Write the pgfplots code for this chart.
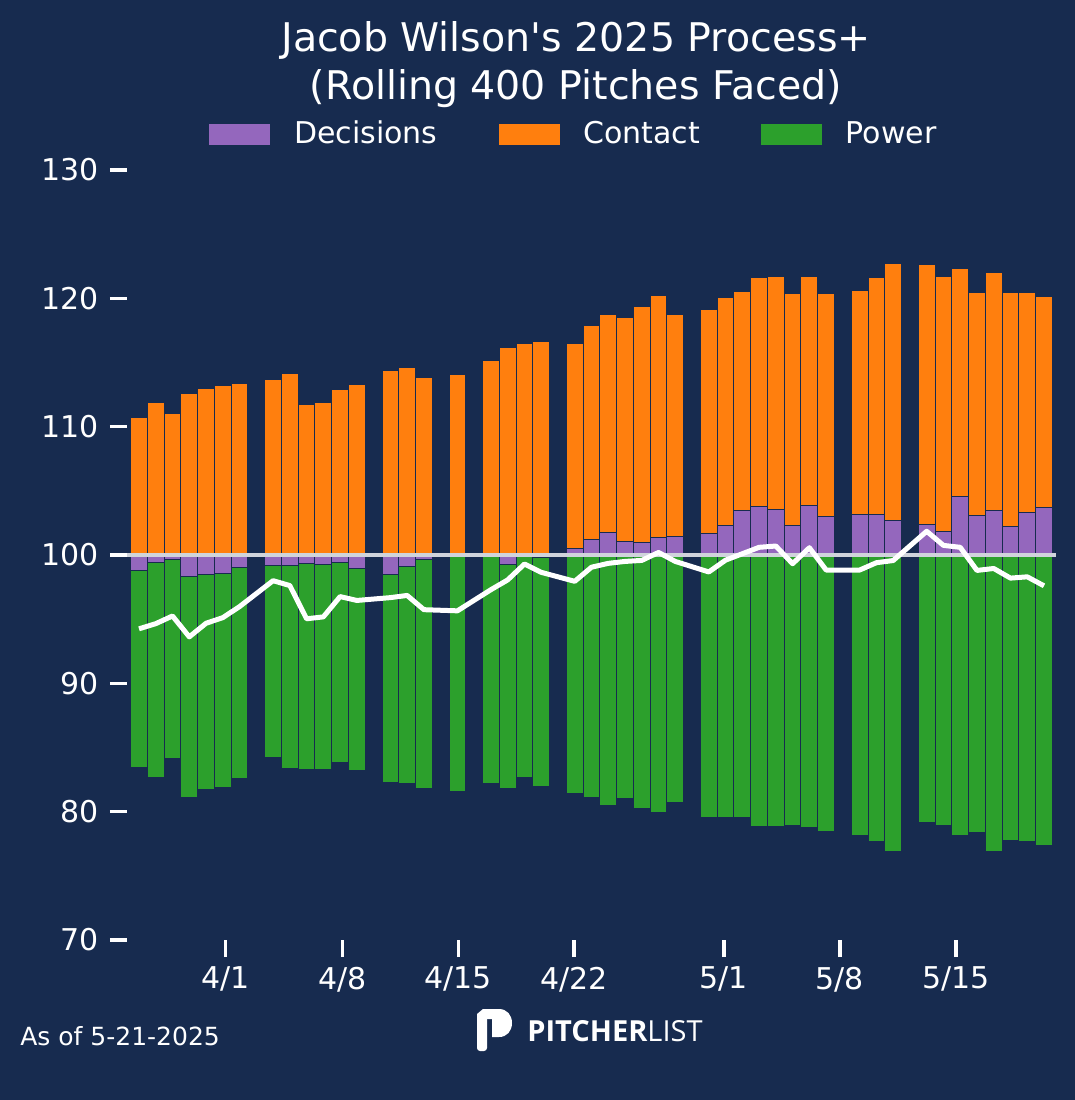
\documentclass[border=0pt]{standalone}
\usepackage{pgfplots}
\pgfplotsset{compat=1.18}
\usepackage{pgfplotstable}
\usepackage{fontspec}
\setmainfont{DejaVu Sans}[Ligatures=TeXOff]
\newfontfamily\logofont{Open Sans}
\definecolor{bg}{RGB}{23,43,79}
\definecolor{decp}{RGB}{148,103,189}
\definecolor{conto}{RGB}{255,127,14}
\definecolor{powg}{RGB}{44,160,44}
\definecolor{hline}{RGB}{208,212,220}

% k = days after 4/1; top = Contact top, mid = Decisions edge, bot = Power bottom, line = Process+
\pgfplotstableread{
k top mid bot line
-5 110.75 98.78 83.48 94.25
-4 111.92 99.40 82.70 94.65
-3 110.99 99.66 84.18 95.25
-2 112.55 98.34 81.07 93.62
-1 112.94 98.49 81.69 94.68
0 113.17 98.57 81.92 95.12
1 113.33 99.04 82.62 95.98
3 113.71 99.19 84.26 98.00
4 114.18 99.19 83.40 97.62
5 111.69 99.35 83.32 95.03
6 111.92 99.27 83.25 95.18
7 112.86 99.43 83.87 96.76
8 113.25 98.94 83.17 96.46
10 114.34 98.49 82.31 96.68
11 114.65 99.12 82.16 96.85
12 113.87 99.66 81.84 95.74
14 114.03 100.00 81.61 95.65
16 115.12 100.00 82.16 97.30
17 116.20 99.27 81.84 98.06
18 116.50 99.90 82.70 99.30
19 116.60 99.80 82.00 98.65
21 116.52 100.49 81.45 97.95
22 117.92 101.19 81.07 99.05
23 118.78 101.77 80.52 99.35
24 118.47 101.04 80.99 99.50
25 119.33 100.96 80.21 99.58
26 120.26 101.38 79.90 100.20
27 118.78 101.45 80.68 99.50
29 119.17 101.69 79.51 98.68
30 120.03 102.31 79.58 99.60
31 120.57 103.48 79.51 100.10
32 121.66 103.79 78.88 100.60
33 121.74 103.56 78.88 100.70
34 120.34 102.31 78.96 99.32
35 121.74 103.87 78.80 100.57
36 120.34 103.01 78.49 98.83
38 120.65 103.17 78.18 98.83
39 121.66 103.17 77.71 99.40
40 122.68 102.70 76.86 99.57
42 122.60 102.39 79.19 101.85
43 121.74 101.85 78.96 100.75
44 122.36 104.57 78.18 100.60
45 120.49 103.09 78.34 98.80
46 122.05 103.48 76.86 98.95
47 120.42 102.24 77.79 98.20
48 120.49 103.33 77.71 98.30
49 120.18 103.72 77.40 97.60
}\data

\begin{document}
\begin{tikzpicture}
\begin{scope}[x=0.5pt,y=-0.5pt]
\fill[bg] (0,0) rectangle (1075,1100);
\node[anchor=base,text=white,inner sep=0pt,font=\fontsize{19.75pt}{24pt}\selectfont] at (576,51) {Jacob Wilson's 2025 Process+};
\node[anchor=base,text=white,inner sep=0pt,font=\fontsize{19.75pt}{24pt}\selectfont] at (576,99) {(Rolling 400 Pitches Faced)};
\node[anchor=base west,text=white,inner sep=0pt,font=\fontsize{12.5pt}{15pt}\selectfont] at (20,1045) {As of 5-21-2025};
\fill[white] (477,1014) -- (483,1009) -- (499,1009) .. controls (507,1009) and (512,1015) .. (512,1023) .. controls (512,1031) and (507,1037) .. (499,1037) -- (492,1037) -- (492,1019) -- (477,1019) -- cycle;
\fill[white,rounded corners=1.5pt] (477,1016) rectangle (487,1051);
\node[anchor=base west,text=white,inner sep=0pt,font=\logofont\fontsize{14.5pt}{17pt}\selectfont] at (527,1041) {\textbf{PITCHER}LIST};
\end{scope}
\begin{axis}[
  at={(63.5pt,-470pt)}, anchor=south west,
  scale only axis, width=464.5pt, height=385pt,
  xmin=-5.716, xmax=49.716, ymin=-30, ymax=30,
  axis lines*=left,
  axis line style={draw=none},
  tick align=outside,
  major tick length=8.5pt,
  tick style={white, line width=1.75pt},
  xtick={0.173,7.13,14.05,20.97,29.90,36.82,43.75},
  xticklabels={4/1,4/8,4/15,4/22,5/1,5/8,5/15},
  ytick={-30,-20,-10,0,10,20,30},
  yticklabels={70,80,90,100,110,120,130},
  /pgf/number format/assume math mode=true,
  ticklabel style={text=white, font=\fontsize{15pt}{18pt}\selectfont},
  yticklabel style={xshift=-2pt},
  xticklabel style={yshift=-1.5pt},
  legend columns=3,
  legend style={at={(0.4822,1.0468)}, anchor=center, draw=none, fill=none,
    text=white, font=\fontsize{15pt}{18pt}\selectfont,
    /tikz/every even column/.append style={column sep=28.5pt}},
]
\addlegendimage{legend image code/.code={\fill[decp] (0pt,-5pt) rectangle (30pt,5pt); \path (40pt,0pt);}}
\addlegendentry{Decisions}
\addlegendimage{legend image code/.code={\fill[conto] (0pt,-5pt) rectangle (30pt,5pt); \path (40pt,0pt);}}
\addlegendentry{Contact}
\addlegendimage{legend image code/.code={\fill[powg] (0pt,-5pt) rectangle (30pt,5pt); \path (40pt,0pt);}}
\addlegendentry{Power}
% Power (below), Contact (above), then Decisions drawn over both from 100
\addplot[ybar, bar width=1, bar shift=0pt, fill=powg, draw=bg, line width=0.5pt, forget plot]
  table[x=k, y expr=\thisrow{bot}-100] {\data};
\addplot[ybar, bar width=1, bar shift=0pt, fill=conto, draw=bg, line width=0.5pt, forget plot]
  table[x=k, y expr=\thisrow{top}-100] {\data};
\addplot[ybar, bar width=1, bar shift=0pt, fill=decp, draw=bg, line width=0.5pt, forget plot]
  table[x=k, y expr=\thisrow{mid}-100] {\data};
\addplot[hline, line width=2pt, forget plot] coordinates {(-5.716,0) (49.716,0)};
\addplot[white, line width=2.5pt, line join=round, forget plot]
  table[x=k, y expr=\thisrow{line}-100] {\data};
\end{axis}
\end{tikzpicture}
\end{document}
